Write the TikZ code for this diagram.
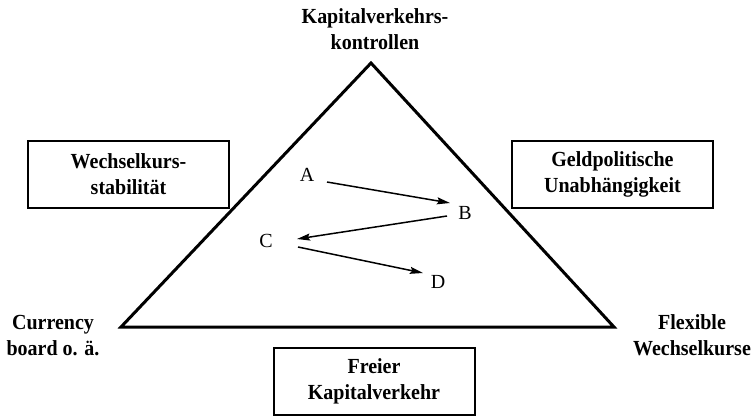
\documentclass[tikz,border=0pt]{standalone}
\usepackage{fontspec}
\setmainfont{Liberation Serif}[BoldFeatures={FakeStretch=0.93}]
\usetikzlibrary{arrows.meta}
\tikzset{
  lbl/.style={align=center, inner sep=0pt, font=\bfseries\fontsize{21.5}{26}\selectfont},
  boxnode/.style={lbl, draw, line width=2pt, minimum width=201pt, minimum height=67pt},
  letter/.style={inner sep=0pt, font=\fontsize{20}{22}\selectfont},
  tri/.style={line width=3pt, line join=miter},
  arr/.style={line width=1.5pt, -{Stealth[length=13pt,width=7pt,inset=2pt]}}
}
\begin{document}
\begin{tikzpicture}[x=1pt, y=-1pt]
\useasboundingbox (0,0) rectangle (753,416);
% triangle
\coordinate (apex) at (371,63);
\coordinate (bl) at (121,327);
\coordinate (br) at (614,327);
\draw[tri] (apex) -- (br) -- (bl) -- cycle;
% corner labels
\node[lbl] (top) at (375,29) {Kapitalverkehrs-\\kontrollen};
\node[lbl] (left) at (53,335.5) {Currency\\board o. ä.};
\node[lbl] (right) at (692,335.5) {Flexible\\Wechselkurse};
% boxes
\node[boxnode] (ws) at (128.5,174.5) {Wechselkurs-\\stabilität};
\node[boxnode] (gu) at (612.5,174.5) {Geldpolitische\\Unabhängigkeit};
\node[boxnode] (fk) at (374,381.5) {Freier\\Kapitalverkehr};
% letters
\node[letter] (A) at (307,175) {A};
\node[letter] (B) at (465,213) {B};
\node[letter] (C) at (266,241) {C};
\node[letter] (D) at (438,282) {D};
% arrows
\draw[arr] ([shift={(20,7)}]A.center) -- ([shift={(-15,-10)}]B.center);
\draw[arr] ([shift={(-18,3)}]B.center) -- ([shift={(31,-2)}]C.center);
\draw[arr] ([shift={(32,6)}]C.center) -- ([shift={(-15,-9)}]D.center);
\end{tikzpicture}
\end{document}
